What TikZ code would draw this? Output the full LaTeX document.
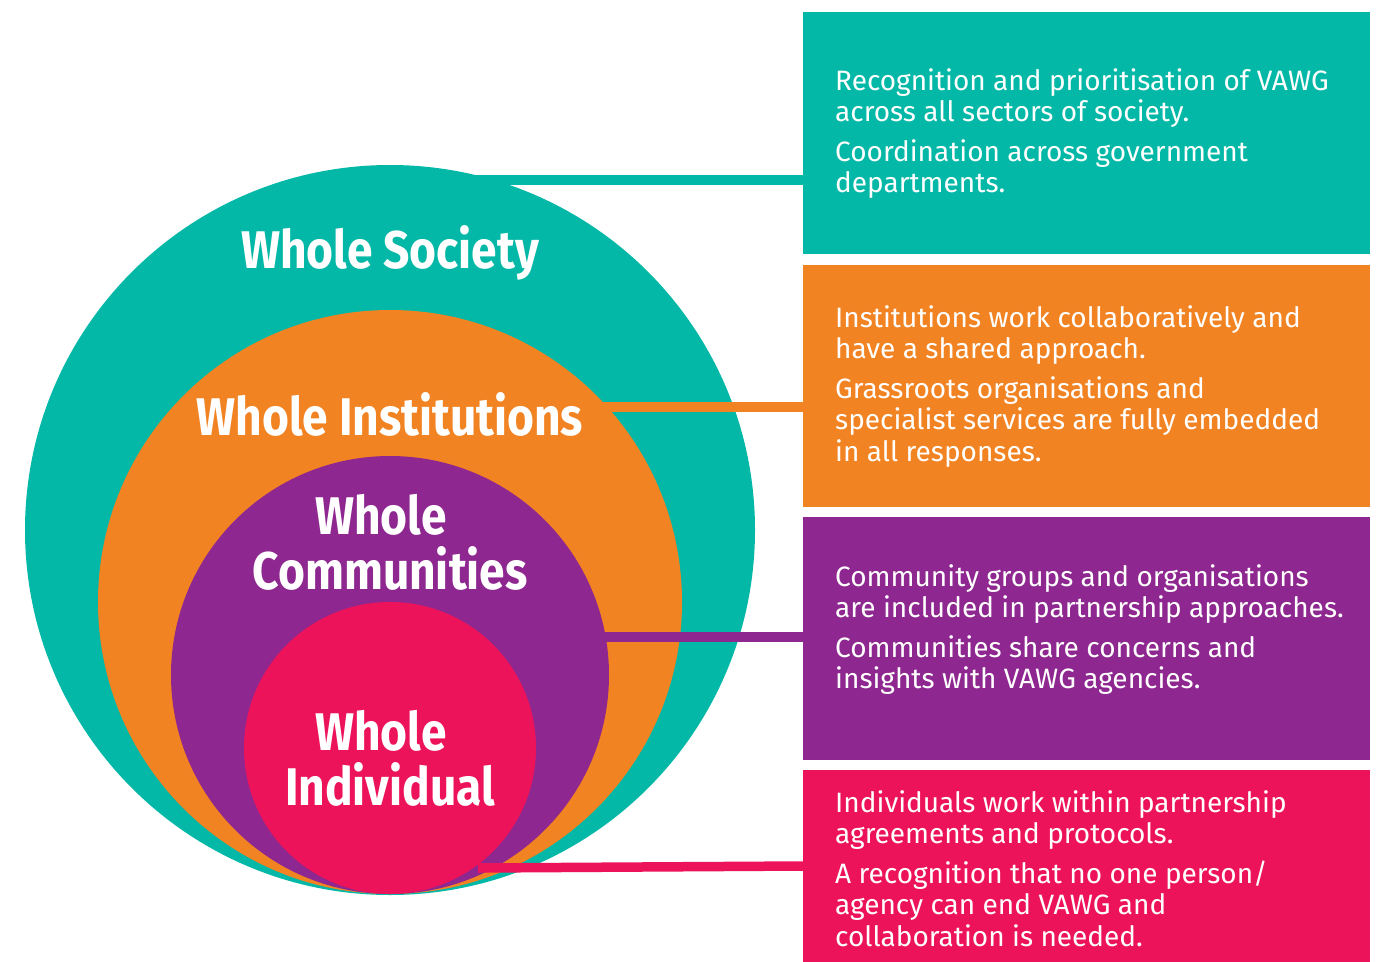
\documentclass[tikz,border=0pt]{standalone}
\usepackage{fontspec}
\setmainfont{Fira Sans}
\newfontfamily\headfont{Fira Sans}[FakeStretch=0.87]
\definecolor{cteal}{RGB}{3,184,166}
\definecolor{corange}{RGB}{242,131,34}
\definecolor{cpurple}{RGB}{142,39,143}
\definecolor{cpink}{RGB}{237,19,91}
\begin{document}
\begin{tikzpicture}[x=1pt,y=-1pt,
  ring/.style={circle,fill=#1,draw=none,inner sep=0pt},
  panel/.style={rectangle,fill=#1,draw=none,inner sep=0pt,anchor=north west,minimum width=567pt},
  head/.style={text=white,font=\headfont\bfseries\fontsize{53}{55}\selectfont,align=center,inner sep=0pt},
  body/.style={text=white,font=\fontsize{28}{31.5}\selectfont,align=left,anchor=north west,inner sep=0pt},
  link/.style={draw=#1,line width=9.5pt}]
\useasboundingbox (0,0) rectangle (1389,961);
% circles
\node[ring=cteal,minimum size=730pt] (soc) at (390,530) {};
\node[ring=corange,minimum size=584pt] (ins) at (390,602) {};
\node[ring=cpurple,minimum size=438pt] (com) at (390,675) {};
\node[ring=cpink,minimum size=292pt] (ind) at (390,748) {};
% boxes
\node[panel=cteal,minimum height=242pt] (bsoc) at (803,12) {};
\node[panel=corange,minimum height=242pt] (bins) at (803,265) {};
\node[panel=cpurple,minimum height=243pt] (bcom) at (803,517) {};
\node[panel=cpink,minimum height=200pt] (bind) at (803,770) {};
% connector start points (just inside each ring)
\coordinate (ssoc) at (470,180);
\coordinate (sins) at (600,407);
\coordinate (scom) at (602,637);
\coordinate (sind) at (478,868);
\coordinate (eind) at (803,866);
% connectors
\draw[link=cteal] (ssoc) -- (ssoc -| bsoc.west);
\draw[link=corange] (sins) -- (sins -| bins.west);
\draw[link=cpurple] (scom) -- (scom -| bcom.west);
\draw[link=cpink] (sind) -- (eind);
% headings
\node[head] (hsoc) at (390,253) {Whole Society};
\node[head] (hins) at (390,414) {Whole Institutions};
\node[head] (hcom) at (390,542) {Whole\hspace*{18pt}\\Communities};
\node[head] (hind) at (390,758) {Whole\hspace*{18pt}\\Individual};
% body texts
\node[body] (tsoc) at (835,68) {Recognition and prioritisation of VAWG\\across all sectors of society.\\[8pt]Coordination across government\\departments.};
\node[body] (tins) at (835,305) {Institutions work collaboratively and\\have a shared approach.\\[8pt]Grassroots organisations and\\specialist services are fully embedded\\in all responses.};
\node[body] (tcom) at (835,564) {Community groups and organisations\\are included in partnership approaches.\\[8pt]Communities share concerns and\\insights with VAWG agencies.};
\node[body] (tind) at (835,790) {Individuals work within partnership\\agreements and protocols.\\[8pt]A recognition that no one person/\\agency can end VAWG and\\collaboration is needed.};
\end{tikzpicture}
\end{document}
